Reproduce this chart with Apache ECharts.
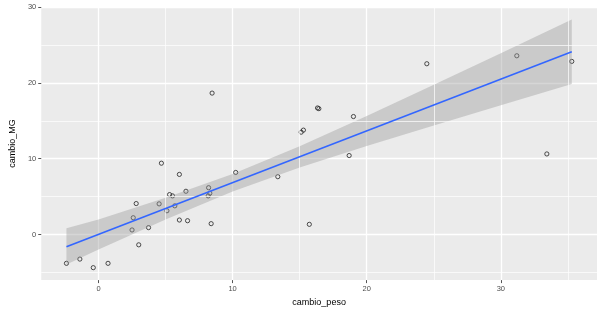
<!DOCTYPE html>
<html>
<head>
<meta charset="utf-8">
<script src="https://cdn.jsdelivr.net/npm/echarts@6/dist/echarts.min.js"></script>
<style>
  html, body { margin: 0; padding: 0; background: #fff; }
  #chart { width: 604px; height: 312px; }
</style>
</head>
<body>
<div id="chart"></div>
<script>
// observed points (cambio_peso, cambio_MG)
const cambioPeso = [-2.39, -1.39, -0.39, 0.71, 2.50, 2.59, 2.81, 3.00, 3.73, 4.52, 4.69, 5.10, 5.30, 5.52, 5.69, 6.03, 6.03, 6.52, 6.64,
  8.21, 8.30, 8.18, 8.40, 8.47, 10.23, 13.37, 15.11, 15.28, 15.72, 16.33, 16.43, 18.69, 19.01, 24.48, 31.19, 33.43, 35.29];
const cambioMG = [-3.79, -3.23, -4.36, -3.79, 0.61, 2.22, 4.09, -1.35, 0.92, 4.05, 9.41, 3.14, 5.27, 5.10, 3.79, 7.93, 1.92, 5.71, 1.83,
  6.18, 5.45, 5.10, 1.44, 18.65, 8.19, 7.63, 13.50, 13.77, 1.35, 16.69, 16.60, 10.42, 15.56, 22.52, 23.57, 10.63, 22.83];

// fitted line ends
const fitX = [-2.39, 35.29];
const fitY = [-1.61, 24.09];

// confidence band, read at several x
const bandX = [-2.39, 0, 5, 10, 15, 20, 25, 30, 35.29];
const bandLo = [-3.95, -1.98, 2.00, 5.69, 8.85, 11.68, 14.39, 17.05, 19.84];
const bandHi = [0.85, 2.00, 4.85, 7.99, 11.65, 15.64, 19.75, 23.91, 28.34];

const xMajor = [0, 10, 20, 30];
const xMinor = [-5, 5, 15, 25, 35];
const yMajor = [0, 10, 20, 30];
const yMinor = [-5, 5, 15, 25];

const pts = cambioPeso.map((x, i) => [x, cambioMG[i]]);
const fit = fitX.map((x, i) => [x, fitY[i]]);

const minorLines = [].concat(
  xMinor.map((v) => ({ xAxis: v })),
  yMinor.map((v) => ({ yAxis: v }))
);

const myChart = echarts.init(document.getElementById("chart"), null, { renderer: "canvas" });
myChart.setOption({
  animation: false,
  backgroundColor: "#ffffff",
  textStyle: { fontFamily: "Liberation Sans, Arial, sans-serif" },
  grid: {
    left: 31, right: 7, top: 7, bottom: 30,
    show: true, backgroundColor: "#EBEBEB", borderWidth: 0,
  },
  xAxis: {
    type: "value",
    min: -4.27,
    max: 37.17,
    name: "cambio_peso",
    nameLocation: "middle",
    nameGap: 14,
    nameTextStyle: { color: "#000", fontSize: 9 },
    axisLine: { show: false, onZero: false },
    axisTick: { show: true, length: 3, customValues: xMajor, lineStyle: { color: "#555", width: 1 } },
    axisLabel: { customValues: xMajor, color: "#4D4D4D", fontSize: 7.5, margin: 5 },
    splitLine: { show: true, lineStyle: { color: "#ffffff", width: 1.3 } },
  },
  yAxis: {
    type: "value",
    min: -6.0,
    max: 30,
    name: "cambio_MG",
    nameLocation: "middle",
    nameGap: 15,
    nameTextStyle: { color: "#000", fontSize: 9 },
    axisLine: { show: false, onZero: false },
    axisTick: { show: true, length: 3, customValues: yMajor, lineStyle: { color: "#555", width: 1 } },
    axisLabel: { customValues: yMajor, color: "#4D4D4D", fontSize: 7.5, margin: 5 },
    splitLine: { show: true, lineStyle: { color: "#ffffff", width: 1.3 } },
  },
  series: [
    {
      // minor grid
      type: "line",
      data: [],
      silent: true,
      z: 1,
      markLine: {
        silent: true,
        symbol: ["none", "none"],
        label: { show: false },
        animation: false,
        lineStyle: { color: "#ffffff", width: 0.7, type: "solid" },
        data: minorLines,
      },
    },
    {
      type: "scatter",
      data: pts,
      z: 3,
      symbol: "circle",
      symbolSize: 4.2,
      itemStyle: { color: "rgba(0,0,0,0)", borderColor: "#222", borderWidth: 1 },
    },
    {
      type: "custom",
      z: 4,
      silent: true,
      data: [[bandX[0], bandLo[0]]],
      renderItem: function (params, api) {
        const upper = bandX.map((x, i) => api.coord([x, bandHi[i]]));
        const lower = bandX.map((x, i) => api.coord([x, bandLo[i]])).reverse();
        return {
          type: "polygon",
          shape: { points: upper.concat(lower) },
          style: { fill: "rgba(153,153,153,0.4)" },
        };
      },
    },
    {
      type: "line",
      data: fit,
      z: 5,
      symbol: "none",
      lineStyle: { color: "#3366FF", width: 1.6 },
    },
  ],
});
</script>
</body>
</html>
